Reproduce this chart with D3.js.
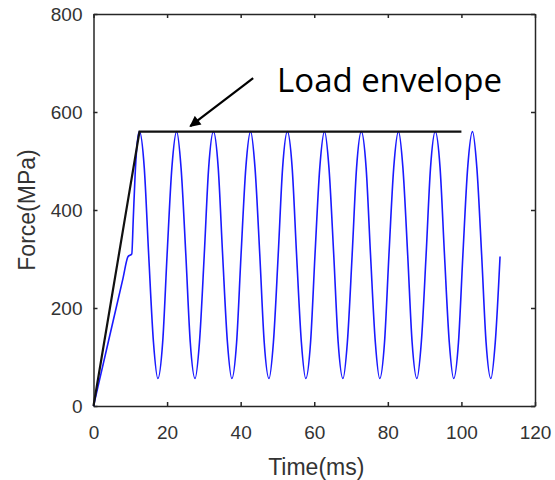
<!DOCTYPE html>
<html>
<head>
<meta charset="utf-8">
<script src="https://cdn.jsdelivr.net/npm/d3@7"></script>
<style>
  body { margin: 0; background: #fff; }
  .axis text { font-family: "Liberation Sans", Arial, sans-serif; font-size: 19px; fill: #333; }
  .axis path, .axis line { stroke: #262626; stroke-width: 1.5; }
</style>
</head>
<body>
<div id="chart"></div>
<script>
// blue response curve
const timeMs = [
  0, 4.0, 8.0, 9.4, 10.4, 10.8, 11.3, 11.8, 12.1,
  12.5, 13.8, 15.0, 16.3, 17.5, 18.8, 20.0, 21.3,
  22.6, 23.8, 25.1, 26.3, 27.6, 28.8, 30.1, 31.3,
  32.6, 33.9, 35.1, 36.4, 37.6, 38.9, 40.1, 41.4,
  42.7, 43.9, 45.2, 46.4, 47.7, 48.9, 50.2, 51.4,
  52.7, 54.0, 55.2, 56.5, 57.7, 59.0, 60.2, 61.5,
  62.8, 64.0, 65.3, 66.5, 67.8, 69.0, 70.3, 71.5,
  72.8, 74.1, 75.3, 76.6, 77.8, 79.1, 80.3, 81.6,
  82.9, 84.1, 85.4, 86.6, 87.9, 89.1, 90.4, 91.6,
  92.9, 94.2, 95.4, 96.7, 97.9, 99.2, 100.4, 101.7,
  103.0, 104.2, 105.5, 106.7, 108.0, 109.2, 110.5
];
const forceMPa = [
  0, 130, 260, 305, 310, 380, 470, 530, 550,
  560, 486, 308, 130, 56, 130, 308, 486,
  560, 486, 308, 130, 56, 130, 308, 486,
  560, 486, 308, 130, 56, 130, 308, 486,
  560, 486, 308, 130, 56, 130, 308, 486,
  560, 486, 308, 130, 56, 130, 308, 486,
  560, 486, 308, 130, 56, 130, 308, 486,
  560, 486, 308, 130, 56, 130, 308, 486,
  560, 486, 308, 130, 56, 130, 308, 486,
  560, 486, 308, 130, 56, 130, 308, 486,
  560, 486, 308, 130, 56, 130, 305
];

// load envelope (black)
const envTime = [0, 12.5, 100];
const envForce = [0, 560, 560];

const xTicks = [0, 20, 40, 60, 80, 100, 120];
const yTicks = [0, 200, 400, 600, 800];

// annotation: arrow tail/tip and label, in data units
const noteText = "Load envelope";
const noteTail = [43.4, 669];
const noteTip = [26.3, 571];
const notePos = [49.9, 641];

const margin = {top: 14, right: 20, bottom: 74, left: 93.5};
const width = 555 - margin.left - margin.right;
const height = 480 - margin.top - margin.bottom;

const svg = d3.select("#chart").append("svg")
    .attr("width", 555)
    .attr("height", 480)
    .append("g")
    .attr("transform", "translate(" + margin.left + "," + margin.top + ")");

const x = d3.scaleLinear().domain([0, 120]).range([0, width]);
const y = d3.scaleLinear().domain([0, 800]).range([height, 0]);

// axes, MATLAB style: ticks inward on all four sides
svg.append("g")
    .attr("class", "axis")
    .attr("transform", "translate(0," + height + ")")
    .call(d3.axisBottom(x).tickValues(xTicks).tickSizeInner(-4).tickSizeOuter(0).tickPadding(20));

svg.append("g")
    .attr("class", "axis")
    .call(d3.axisLeft(y).tickValues(yTicks).tickSizeInner(-4).tickSizeOuter(0).tickPadding(11));

svg.append("g")
    .attr("class", "axis")
    .call(d3.axisTop(x).tickValues(xTicks).tickSizeInner(-4).tickSizeOuter(0).tickFormat(""));

svg.append("g")
    .attr("class", "axis")
    .attr("transform", "translate(" + width + ",0)")
    .call(d3.axisRight(y).tickValues(yTicks).tickSizeInner(-4).tickSizeOuter(0).tickFormat(""));

// lines
const response = timeMs.map((t, i) => ({t: t, f: forceMPa[i]}));
const envelope = envTime.map((t, i) => ({t: t, f: envForce[i]}));

svg.append("path")
    .datum(response)
    .attr("fill", "none")
    .attr("stroke", "#1a1aff")
    .attr("stroke-width", 1.6)
    .attr("d", d3.line().x(d => x(d.t)).y(d => y(d.f)).curve(d3.curveMonotoneX));

svg.append("path")
    .datum(envelope)
    .attr("fill", "none")
    .attr("stroke", "#111")
    .attr("stroke-width", 2.2)
    .attr("d", d3.line().x(d => x(d.t)).y(d => y(d.f)));

// axis titles
svg.append("text")
    .attr("x", width / 2 + 2)
    .attr("y", height + 69)
    .attr("text-anchor", "middle")
    .attr("font-family", "Liberation Sans, Arial, sans-serif")
    .attr("font-size", "23px")
    .attr("fill", "#333")
    .text("Time(ms)");

svg.append("text")
    .attr("transform", "translate(" + (35 - margin.left) + "," + (height / 2) + ") rotate(-90)")
    .attr("text-anchor", "middle")
    .attr("font-family", "Liberation Sans, Arial, sans-serif")
    .attr("font-size", "23px")
    .attr("fill", "#333")
    .text("Force(MPa)");

// annotation arrow
svg.append("defs").append("marker")
    .attr("id", "head")
    .attr("viewBox", "0 0 10 10")
    .attr("refX", 9)
    .attr("refY", 5)
    .attr("markerWidth", 5.5)
    .attr("markerHeight", 5)
    .attr("orient", "auto")
    .append("path")
    .attr("d", "M0,0L10,5L0,10Z")
    .attr("fill", "#000");

svg.append("line")
    .attr("x1", x(noteTail[0]))
    .attr("y1", y(noteTail[1]))
    .attr("x2", x(noteTip[0]))
    .attr("y2", y(noteTip[1]))
    .attr("stroke", "#000")
    .attr("stroke-width", 2.2)
    .attr("marker-end", "url(#head)");

svg.append("text")
    .attr("x", x(notePos[0]))
    .attr("y", y(notePos[1]))
    .attr("font-family", "Open Sans, sans-serif")
    .attr("font-size", "33px")
    .attr("fill", "#000")
    .text(noteText);
</script>
</body>
</html>
